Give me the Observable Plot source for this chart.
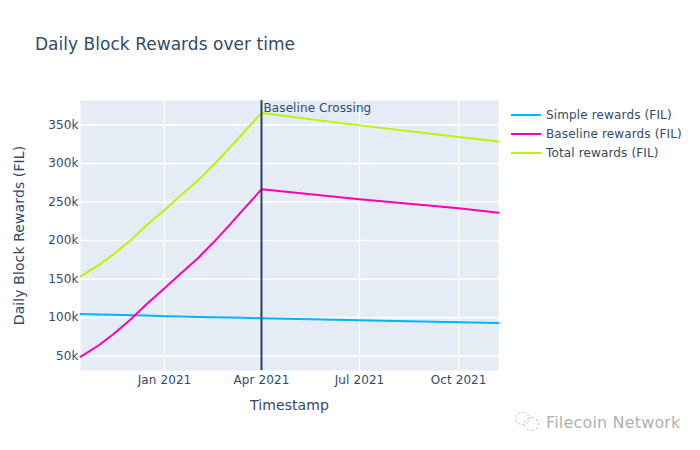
<!DOCTYPE html>
<html><head><meta charset="utf-8">
<script src="https://cdn.jsdelivr.net/npm/d3@7"></script>
<script src="https://cdn.jsdelivr.net/npm/@observablehq/plot@0.6"></script>
<style>
html,body{margin:0;padding:0;background:#fff}
#wrap{position:relative;width:700px;height:450px;font-family:"DejaVu Sans",sans-serif;color:#34496a;overflow:hidden}
#title{position:absolute;left:35px;top:32px;font-size:17px;line-height:24px;white-space:nowrap;letter-spacing:.03px}
.leg{position:absolute;left:511px;font-size:12px;line-height:16px;height:16px;white-space:nowrap;letter-spacing:.14px}
.leg i{position:absolute;left:0;top:7px;width:30px;height:2px}
.leg span{position:absolute;left:35px;top:0}
#mark{position:absolute;left:546px;top:412px;font-size:16px;line-height:22px;color:#b0b0b0;white-space:nowrap;letter-spacing:.17px}
.bub{position:absolute;border:1px dashed #c4c4c4;border-radius:50%}
svg{display:block}
svg text{letter-spacing:.1px}
</style></head><body>
<div id="wrap"><div id="title">Daily Block Rewards over time</div><div id="mark">Filecoin Network</div>
<div class="bub" style="left:515px;top:412px;width:13px;height:11px"></div>
<div class="bub" style="left:524px;top:417px;width:13px;height:12px"></div></div>
<script>
const dates = ["2020-10-15","2020-11-01","2020-11-15","2020-12-01","2020-12-15","2021-01-01","2021-01-15","2021-02-01","2021-02-15","2021-03-01","2021-03-15","2021-04-01","2021-07-01","2021-10-01","2021-11-07"];
const simpleRewards = [104500,104000,103500,103000,102500,101700,101300,100800,100400,100000,99600,99000,96500,94000,93000];
const baselineRewards = [49000,64000,79000,98000,117000,138000,156000,177000,197000,218000,240000,266500,253500,242000,236000];
const totalRewards = [153500,168000,182500,201000,219500,239700,257300,277800,297400,318000,339600,365500,349500,334500,328500];
const seriesNames = ["Simple rewards (FIL)","Baseline rewards (FIL)","Total rewards (FIL)"];
const seriesColors = ["#00B5FF","#FF00B4","#B9F500"];
const xTicks = ["2021-01-01","2021-04-01","2021-07-01","2021-10-01"];
const yTicks = [50000,100000,150000,200000,250000,300000,350000];
const crossingDate = "2021-04-01";
const crossingLabel = "Baseline Crossing";

const d = s => new Date(s + "T00:00:00Z");
const rows = [simpleRewards, baselineRewards, totalRewards].flatMap((vals, i) =>
  vals.map((v, j) => ({date: d(dates[j]), value: v, series: seriesNames[i]})));

const plot = Plot.plot({
  width: 700, height: 450,
  marginLeft: 80, marginRight: 202, marginTop: 100, marginBottom: 80,
  style: {fontFamily: '"DejaVu Sans",sans-serif', fontSize: "12px", color: "#34496a", background: "transparent"},
  x: {type: "utc", domain: [d("2020-10-15"), d("2021-11-07")]},
  y: {domain: [31200, 381800]},
  color: {domain: seriesNames, range: seriesColors},
  marks: [
    Plot.frame({fill: "#e5ecf6", stroke: null}),
    Plot.gridX(xTicks.map(d), {stroke: "#fff", strokeOpacity: 1, strokeWidth: 1.3}),
    Plot.gridY(yTicks, {stroke: "#fff", strokeOpacity: 1, strokeWidth: 1.3}),
    Plot.axisX({ticks: xTicks.map(d), tickSize: 0, tickPadding: 5, tickFormat: d3.utcFormat("%b %Y"),
      label: "Timestamp", labelAnchor: "center", labelArrow: "none", labelOffset: 39, fill: "#34496a"}),
    Plot.axisY({ticks: yTicks, tickSize: 0, tickPadding: 2, tickFormat: v => v / 1000 + "k",
      label: "Daily Block Rewards (FIL)", labelAnchor: "center", labelArrow: "none", labelOffset: 66, fill: "#34496a"}),
    Plot.line(rows, {x: "date", y: "value", stroke: "series", strokeWidth: 2, curve: "linear"}),
    Plot.ruleX([d(crossingDate)], {stroke: "#2a3f5f", strokeWidth: 2}),
    Plot.text([crossingLabel], {x: () => d(crossingDate), y: () => 381800, text: d => d, textAnchor: "start", lineAnchor: "top", dx: 2, dy: 3, fontSize: 12, fill: "#34496a"})
  ]
});
plot.querySelectorAll('[aria-label="x-axis label"] text, [aria-label="y-axis label"] text').forEach(t => t.style.fontSize = "14px");
const wrap = document.getElementById("wrap");
wrap.prepend(plot);
seriesNames.forEach((n, i) => {
  const el = document.createElement("div");
  el.className = "leg";
  el.style.top = (107 + i * 19) + "px";
  el.innerHTML = `<i style="background:${seriesColors[i]}"></i><span>${n}</span>`;
  wrap.appendChild(el);
});
</script>
</body></html>
